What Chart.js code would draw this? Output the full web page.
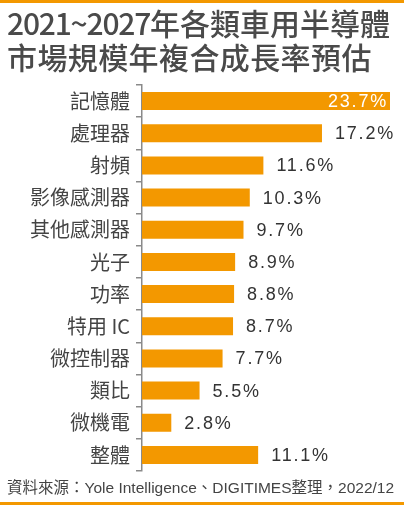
<!DOCTYPE html>
<html>
<head>
<meta charset="utf-8">
<script src="https://cdn.jsdelivr.net/npm/chart.js@4.4.1/dist/chart.umd.min.js"></script>
<style>
  html, body { margin: 0; padding: 0; background: #fff; }
  #wrap { position: relative; width: 404px; height: 505px; overflow: hidden; }
  #topLine, #bottomLine { position: absolute; left: 0; width: 404px; height: 3px; background: #f39800; }
  #topLine { top: 0; }
  #bottomLine { bottom: 0; }
  #title { position: absolute; left: 7px; top: 5px; font-family: "Noto Sans CJK TC", sans-serif;
           font-size: 30px; line-height: 34px; color: #4a4a4a; font-weight: 500; white-space: nowrap; }
  #title .num { letter-spacing: -1.2px; }
  #title .l2 { letter-spacing: 0.4px; }
  #source { position: absolute; left: 7px; top: 475px; font-family: "Liberation Sans", "Noto Sans CJK TC", sans-serif;
            font-size: 15.5px; color: #444; white-space: nowrap; }
  #chartBox { position: absolute; left: 0; top: 0; width: 404px; height: 505px; }
</style>
</head>
<body>
<div id="wrap">
  <div id="topLine"></div>
  <div id="chartBox"><canvas id="bar-chart"></canvas></div>
  <div id="title"><span class="num">2021~2027</span>年各類車用半導體<br><span class="l2">市場規模年複合成長率預估</span></div>
  <div id="source">資料來源：Yole Intelligence、DIGITIMES整理，2022/12</div>
  <div id="bottomLine"></div>
</div>
<script>
// 類別與年複合成長率 (%)
let Labels = ["記憶體", "處理器", "射頻", "影像感測器", "其他感測器", "光子", "功率", "特用 IC", "微控制器", "類比", "微機電", "整體"];
let Values = [23.7, 17.2, 11.6, 10.3, 9.7, 8.9, 8.8, 8.7, 7.7, 5.5, 2.8, 11.1];

let barColor = "#f39800";

// 數值標籤
let valueLabels = {
    id: "valueLabels",
    afterDatasetsDraw: function(chart) {
        let ctx = chart.ctx;
        let meta = chart.getDatasetMeta(0);
        ctx.save();
        ctx.font = '18px "Liberation Sans", Arial, sans-serif';
        ctx.letterSpacing = "1.8px";
        ctx.textBaseline = "middle";
        meta.data.forEach(function(bar, i) {
            let txt = Values[i].toFixed(1) + "%";
            if (i == 0) {
                ctx.fillStyle = "#fff";
                ctx.textAlign = "right";
                ctx.fillText(txt, bar.x - 2, bar.y + 1);
            } else {
                ctx.fillStyle = "#333";
                ctx.textAlign = "left";
                ctx.fillText(txt, bar.x + 13, bar.y + 1);
            }
        });
        ctx.restore();
    }
};

new Chart(document.getElementById("bar-chart"), {
    type: "bar",
    data: {
        labels: Labels,
        datasets: [{
            data: Values,
            backgroundColor: barColor,
            borderWidth: 0,
            barPercentage: 0.56,
            categoryPercentage: 1
        }]
    },
    options: {
        indexAxis: "y",
        responsive: true,
        maintainAspectRatio: false,
        animation: false,
        layout: { padding: { top: 85, bottom: 34, left: 0, right: 14 } },
        plugins: {
            legend: { display: false },
            tooltip: { enabled: false }
        },
        scales: {
            x: {
                display: false,
                min: 0,
                max: 23.7
            },
            y: {
                afterFit: function(scale) { scale.width = 142; },
                grid: {
                    offset: true,
                    drawOnChartArea: false,
                    drawTicks: true,
                    tickLength: 6,
                    color: "#8a8a8a",
                    lineWidth: 1.5
                },
                border: { display: true, color: "#8a8a8a", width: 1.5 },
                ticks: {
                    color: "#444",
                    padding: 6,
                    font: { family: '"Noto Sans CJK TC", sans-serif', size: 20 }
                }
            }
        }
    },
    plugins: [valueLabels]
});
</script>
</body>
</html>
